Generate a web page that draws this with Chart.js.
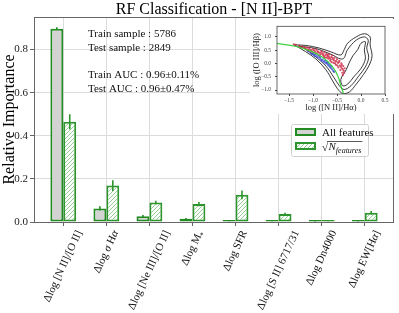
<!DOCTYPE html>
<html>
<head>
<meta charset="utf-8">
<script src="https://cdn.jsdelivr.net/npm/chart.js@4.4.0/dist/chart.umd.min.js"></script>
<style>
  html, body { margin: 0; padding: 0; background: #fff; }
  #wrap { position: relative; width: 399px; height: 313px; }
  #main { position: absolute; left: 0; top: 0; }
  #inset { position: absolute; left: 250px; top: 19px; background: #fff; }
</style>
</head>
<body>
<div id="wrap">
  <canvas id="main" width="399" height="313"></canvas>
  <canvas id="inset" width="145" height="95"></canvas>
</div>
<script>
// feature importance
const categories = ['Δlog [N II]/[O II]', 'Δlog σ Hα', 'Δlog [Ne III]/[O II]', 'Δlog M*',
                    'Δlog SFR', 'Δlog [S II] 6717/31', 'Δlog Dn4000', 'Δlog EW[Hα]'];
const allFeatures     = [0.897, 0.063, 0.027, 0.015, 0.004, 0.003, 0.002, 0.003];
const allFeaturesErr  = [0.006, 0.010, 0.005, 0.003, 0.001, 0.001, 0.001, 0.001];
const sqrtFeatures    = [0.465, 0.169, 0.090, 0.083, 0.126, 0.037, 0.004, 0.043];
const sqrtFeaturesErr = [0.035, 0.025, 0.008, 0.010, 0.020, 0.006, 0.001, 0.008];
const yTicks = [0, 0.2, 0.4, 0.6, 0.8];
const infoLines = ['Train sample : 5786', 'Test sample : 2849', '', 'Train AUC : 0.96±0.11%', 'Test AUC : 0.96±0.47%'];

// inset BPT diagram (rough reading)
const bptX = [-1.77, -1.35, -1.08, -0.80, -0.59, -0.48, -0.42, -0.35];
const bptY = [0.76, 0.64, 0.49, 0.23, -0.13, -0.48, -0.84, -1.21];
const redX = [-1.40, -1.36, -1.29, -1.28, -1.22, -1.18, -1.17, -1.12, -1.08, -1.07, -1.06, -1.00, -0.98, -0.97, -0.93, -0.90,
              -0.87, -0.86, -0.82, -0.80, -0.78, -0.76, -0.75, -0.72, -0.70, -0.68, -0.66, -0.64, -0.62, -0.60, -0.58, -0.57,
              -0.55, -0.53, -0.52, -0.50, -0.48, -0.47, -0.45, -0.44, -0.43, -0.41, -0.40, -0.39, -0.37, -0.36, -0.38,
              -1.25, -1.15, -1.10, -1.03, -1.02, -0.95, -0.92, -0.89, -0.84, -0.83, -0.79, -0.77, -0.74, -0.71, -0.69,
              -0.67, -0.65, -0.63, -0.61, -0.59, -0.56, -0.54, -0.51, -0.49, -0.46, -0.42, -0.40, -0.38, -0.35, -0.34];
const redY = [0.72, 0.70, 0.66, 0.63, 0.64, 0.62, 0.58, 0.60, 0.59, 0.53, 0.48, 0.55, 0.50, 0.42, 0.52, 0.46,
              0.40, 0.30, 0.47, 0.38, 0.30, 0.42, 0.22, 0.36, 0.28, 0.18, 0.34, 0.10, 0.24, 0.30, 0.15, 0.02,
              0.22, 0.08, -0.05, 0.16, 0.02, -0.15, 0.10, -0.08, -0.25, 0.00, -0.18, -0.35, -0.10, -0.28, -0.44,
              0.61, 0.55, 0.52, 0.50, 0.44, 0.45, 0.38, 0.43, 0.35, 0.42, 0.33, 0.25, 0.31, 0.22, 0.32,
              0.25, 0.20, 0.15, 0.05, 0.20, 0.12, 0.00, 0.08, -0.08, 0.05, -0.12, -0.05, -0.22, -0.35, -0.18];
const blueX = [-1.05, -1.00, -0.98, -0.95, -0.92, -0.90, -0.88, -0.85, -0.83, -0.80, -0.78, -0.75, -0.73, -0.70, -0.68, -0.66, -0.64, -0.62, -0.60, -0.58,
               -1.10, -1.02, -0.96, -0.86, -0.82, -0.76, -0.71, -0.69, -0.65, -0.62, -0.56];
const blueY = [0.40, 0.38, 0.32, 0.35, 0.28, 0.22, 0.30, 0.20, 0.14, 0.15, 0.08, 0.10, 0.00, 0.02, -0.08, -0.02, -0.15, -0.10, -0.22, -0.28,
               0.45, 0.35, 0.28, 0.25, 0.10, 0.04, 0.06, -0.03, -0.10, -0.18, -0.32];
const contourOuterX = [-1.39, -1.15, -0.87, -0.63, -0.42, -0.35, -0.28, -0.10, 0.07, 0.19, 0.19, 0.23, 0.17, 0.05, -0.10, -0.24, -0.38, -0.49, -0.59, -0.73, -0.94, -1.15, -1.39];
const contourOuterY = [0.70, 0.68, 0.58, 0.44, 0.32, 0.52, 0.76, 1.00, 1.12, 1.00, 0.70, 0.29, -0.07, -0.42, -0.78, -1.07, -1.13, -0.95, -0.66, -0.24, 0.17, 0.44, 0.70];
const contourMidX = [-1.29, -0.94, -0.63, -0.38, -0.28, -0.10, 0.07, 0.15, 0.12, 0.16, 0.09, -0.05, -0.21, -0.35, -0.45, -0.56, -0.73, -0.97, -1.18, -1.29];
const contourMidY = [0.65, 0.56, 0.35, 0.17, 0.52, 0.88, 1.00, 0.88, 0.58, 0.23, -0.13, -0.48, -0.84, -0.98, -0.84, -0.54, -0.10, 0.29, 0.56, 0.65];
const contourInX = [-0.17, -0.07, 0.00, 0.09, 0.07, 0.09, 0.00, -0.14, -0.28, -0.38, -0.42, -0.31, -0.24, -0.17];
const contourInY = [0.29, 0.52, 0.76, 0.82, 0.52, 0.17, -0.19, -0.48, -0.78, -0.84, -0.60, -0.24, 0.05, 0.29];
const insetXTicks = [-1.5, -1.0, -0.5, 0.0, 0.5];
const insetYTicks = [-1.0, -0.5, 0.0, 0.5, 1.0];

const serif = "'Liberation Serif', 'Times New Roman', serif";
const green = '#228b22';
const zip = (xs, ys) => xs.map((x, i) => ({ x: x, y: ys[i] }));

function hatch() {
  const c = document.createElement('canvas');
  c.width = 4; c.height = 4;
  const g = c.getContext('2d');
  g.fillStyle = '#fff';
  g.fillRect(0, 0, 4, 4);
  g.strokeStyle = '#86c986';
  g.lineWidth = 0.9;
  g.beginPath();
  g.moveTo(0, 4); g.lineTo(4, 0);
  g.moveTo(-1, 1); g.lineTo(1, -1);
  g.moveTo(3, 5); g.lineTo(5, 3);
  g.stroke();
  return g.createPattern(c, 'repeat');
}
const hatchFill = hatch();

// greek letters italic, '*' as subscript (like mathtext)
function runs(text) {
  const out = [];
  for (const ch of text) {
    const style = /[α-ω]/.test(ch) ? 'it' : (ch === '*' ? 'sub' : 'rm');
    const last = out[out.length - 1];
    if (last && last.style === style) last.t += ch;
    else out.push({ t: ch, style: style });
  }
  return out;
}
function runFont(style, size) {
  if (style === 'it') return 'italic ' + size + 'px ' + serif;
  if (style === 'sub') return (size * 0.7) + 'px ' + serif;
  return size + 'px ' + serif;
}
function richWidth(ctx, text, size) {
  let w = 0;
  runs(text).forEach(r => { ctx.font = runFont(r.style, size); w += ctx.measureText(r.t).width; });
  return w;
}
function drawRich(ctx, text, x, y, size) {
  let cx = x;
  runs(text).forEach(r => {
    ctx.font = runFont(r.style, size);
    ctx.fillText(r.t, cx, r.style === 'sub' ? y + size * 0.3 : y);
    cx += ctx.measureText(r.t).width;
  });
}

const decorations = {
  id: 'decorations',
  afterDatasetsDraw(chart) {
    const ctx = chart.ctx;
    const ys = chart.scales.y;
    const sets = [[allFeatures, allFeaturesErr, green], [sqrtFeatures, sqrtFeaturesErr, '#2e952e']];
    ctx.save();
    ctx.lineWidth = 1.6;
    sets.forEach((s, d) => {
      const meta = chart.getDatasetMeta(d);
      s[0].forEach((v, i) => {
        const x = meta.data[i].x;
        ctx.strokeStyle = s[2];
        ctx.beginPath();
        ctx.moveTo(x, ys.getPixelForValue(v + s[1][i]));
        ctx.lineTo(x, ys.getPixelForValue(Math.max(0, v - s[1][i])));
        ctx.stroke();
      });
    });
    ctx.restore();
  },
  afterDraw(chart) {
    const ctx = chart.ctx;
    const a = chart.chartArea;
    const xs = chart.scales.x;
    ctx.save();
    // frame
    ctx.strokeStyle = '#666';
    ctx.lineWidth = 1;
    ctx.strokeRect(a.left + 0.5, a.top + 0.5, a.right - a.left - 1, a.bottom - a.top);

    ctx.fillStyle = '#000';
    // title
    ctx.font = '16px ' + serif;
    ctx.textAlign = 'center';
    ctx.textBaseline = 'alphabetic';
    ctx.fillText('RF Classification - [N II]-BPT', (a.left + a.right) / 2, 14);

    // y label
    ctx.save();
    ctx.translate(10, (a.top + a.bottom) / 2);
    ctx.rotate(-Math.PI / 2);
    ctx.textBaseline = 'middle';
    ctx.fillText('Relative Importance', 0, 0);
    ctx.restore();

    // rotated x labels, bbox centred under each tick
    ctx.textAlign = 'left';
    ctx.fillStyle = '#111';
    const ang = 65 * Math.PI / 180;
    const c = Math.cos(ang), s = Math.sin(ang);
    const fs = 11, asc = fs * 0.72, desc = fs * 0.22;
    const y0 = a.bottom + 7;
    categories.forEach((lab, i) => {
      const tx = xs.getPixelForValue(i);
      const W = richWidth(ctx, lab, fs);
      const px = tx - ((-s * asc) + (c * W + s * desc)) / 2;
      const py = y0 + s * W + c * asc;
      ctx.save();
      ctx.translate(px, py);
      ctx.rotate(-ang);
      drawRich(ctx, lab, 0, 0, fs);
      ctx.restore();
    });

    // sample / AUC text
    ctx.font = '11px ' + serif;
    ctx.fillStyle = '#111';
    infoLines.forEach((t, i) => { if (t) ctx.fillText(t, 88, 37 + i * 13.7); });

    // legend
    ctx.fillStyle = 'rgba(255,255,255,0.85)';
    ctx.strokeStyle = '#d0d0d0';
    ctx.lineWidth = 1;
    ctx.beginPath();
    ctx.roundRect(291.5, 124.5, 77, 32, 2);
    ctx.fill();
    ctx.stroke();
    ctx.lineWidth = 2;
    ctx.fillStyle = '#d3d3d3';
    ctx.strokeStyle = green;
    ctx.fillRect(296, 129, 19, 6);
    ctx.strokeRect(296, 129, 19, 6);
    ctx.fillStyle = hatchFill;
    ctx.strokeStyle = '#2e952e';
    ctx.fillRect(296, 143, 19, 6);
    ctx.strokeRect(296, 143, 19, 6);
    ctx.fillStyle = '#111';
    ctx.font = '11px ' + serif;
    ctx.fillText('All features', 322, 136);
    ctx.fillText('√', 322, 151);
    const rx = 322 + ctx.measureText('√').width;
    ctx.font = 'italic 11px ' + serif;
    ctx.fillText('N', rx + 0.5, 150);
    const nw = ctx.measureText('N').width;
    ctx.font = 'italic 8px ' + serif;
    ctx.fillText('features', rx + 0.5 + nw, 152.5);
    const fw = ctx.measureText('features').width;
    ctx.strokeStyle = '#111';
    ctx.lineWidth = 0.7;
    ctx.beginPath();
    ctx.moveTo(rx - 1, 141.5);
    ctx.lineTo(rx + 1.5 + nw + fw, 141.5);
    ctx.stroke();
    ctx.restore();
  }
};

new Chart(document.getElementById('main'), {
  type: 'bar',
  data: {
    datasets: [
      {
        label: 'All features',
        data: zip(categories.map((_, i) => i), allFeatures),
        backgroundColor: '#d3d3d3',
        borderColor: green,
        borderWidth: 2,
        borderSkipped: false,
        minBarLength: 2
      },
      {
        label: 'sqrt N features',
        data: zip(categories.map((_, i) => i), sqrtFeatures),
        backgroundColor: hatchFill,
        borderColor: '#2e952e',
        borderWidth: 2,
        borderSkipped: false,
        minBarLength: 2
      }
    ]
  },
  options: {
    responsive: false,
    animation: false,
    devicePixelRatio: 1,
    categoryPercentage: 0.6,
    barPercentage: 1.0,
    layout: { padding: { top: 17, right: 5, left: 0, bottom: 0 } },
    plugins: { legend: { display: false }, tooltip: { enabled: false } },
    scales: {
      x: {
        type: 'linear',
        min: -0.68,
        max: 7.68,
        offset: false,
        afterBuildTicks: s => { s.ticks = categories.map((_, i) => ({ value: i })); },
        afterFit: s => { s.height = 91; },
        ticks: { display: false },
        grid: { offset: false, color: '#dcdcdc', tickColor: '#666', tickLength: 4 },
        border: { display: false }
      },
      y: {
        min: 0,
        max: 0.951,
        afterBuildTicks: s => { s.ticks = yTicks.map(v => ({ value: v })); },
        afterFit: s => { s.width = 34; },
        ticks: {
          padding: 2,
          color: '#222',
          font: { family: serif, size: 11 },
          callback: v => v.toFixed(1)
        },
        grid: { color: '#dcdcdc', tickColor: '#666', tickLength: 4 },
        border: { display: false }
      }
    }
  },
  plugins: [decorations]
});

// inset
const insetDeco = {
  id: 'insetDeco',
  afterDraw(chart) {
    const ctx = chart.ctx;
    const a = chart.chartArea;
    ctx.save();
    ctx.strokeStyle = '#444';
    ctx.lineWidth = 0.8;
    ctx.strokeRect(a.left, a.top, a.right - a.left, a.bottom - a.top);
    ctx.fillStyle = '#222';
    ctx.font = '8.5px ' + serif;
    ctx.textAlign = 'center';
    ctx.textBaseline = 'middle';
    ctx.fillText('log ([N II]/Hα)', (a.left + a.right) / 2, 89);
    ctx.translate(7, (a.top + a.bottom) / 2);
    ctx.rotate(-Math.PI / 2);
    ctx.fillText('log ([O III]/Hβ)', 0, 0);
    ctx.restore();
  }
};

const fmt = v => v.toFixed(1).replace('-', '−');
new Chart(document.getElementById('inset'), {
  type: 'scatter',
  data: {
    datasets: [
      { data: zip(bptX, bptY), showLine: true, borderColor: '#3ed13e', borderWidth: 1.2, pointRadius: 0, tension: 0.4 },
      { data: zip(redX, redY), backgroundColor: 'rgba(205,40,70,0.8)', borderWidth: 0, pointRadius: 1.1 },
      { data: zip(blueX, blueY), backgroundColor: 'rgba(60,80,210,0.8)', borderWidth: 0, pointRadius: 1.1 },
      { data: zip(contourOuterX, contourOuterY), showLine: true, borderColor: '#222', borderWidth: 0.9, pointRadius: 0, tension: 0.35 },
      { data: zip(contourMidX, contourMidY), showLine: true, borderColor: '#222', borderWidth: 0.9, pointRadius: 0, tension: 0.35 },
      { data: zip(contourInX, contourInY), showLine: true, borderColor: '#222', borderWidth: 0.9, pointRadius: 0, tension: 0.35 }
    ]
  },
  options: {
    responsive: false,
    animation: false,
    devicePixelRatio: 1,
    layout: { padding: { top: 3, right: 10, left: 0, bottom: 0 } },
    plugins: { legend: { display: false }, tooltip: { enabled: false } },
    scales: {
      x: {
        min: -1.75,
        max: 0.5,
        afterBuildTicks: s => { s.ticks = insetXTicks.map(v => ({ value: v })); },
        afterFit: s => { s.height = 20; },
        ticks: { padding: 1, color: '#444', font: { family: serif, size: 5.5 }, callback: fmt },
        grid: { display: true, drawOnChartArea: false, tickColor: '#444', tickLength: 2 },
        border: { display: false }
      },
      y: {
        min: -1.15,
        max: 1.4,
        afterBuildTicks: s => { s.ticks = insetYTicks.map(v => ({ value: v })); },
        afterFit: s => { s.width = 27; },
        ticks: { padding: 4, color: '#444', font: { family: serif, size: 5.5 }, callback: fmt },
        grid: { display: true, drawOnChartArea: false, tickColor: '#444', tickLength: 2 },
        border: { display: false }
      }
    }
  },
  plugins: [insetDeco]
});
</script>
</body>
</html>
